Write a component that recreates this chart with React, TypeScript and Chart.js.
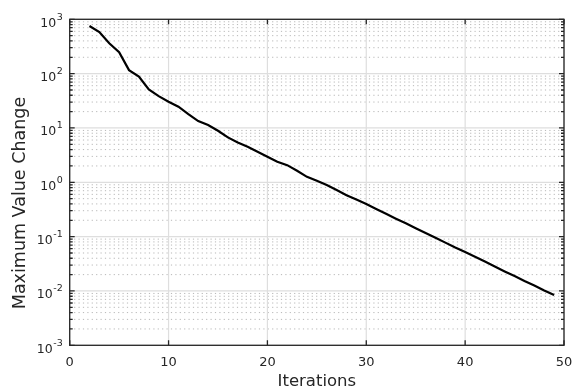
import React, { useEffect, useRef } from "react";
import { Chart, registerables } from "chart.js";

Chart.register(...registerables);

// Convergence history: largest change in the value function per iteration
const iterations = [
  2, 3, 4, 5, 6, 7, 8, 9, 10, 11, 12, 13, 14, 15, 16, 17, 18, 19, 20, 21, 22, 23, 24, 25,
  26, 27, 28, 29, 30, 31, 32, 33, 34, 35, 36, 37, 38, 39, 40, 41, 42, 43, 44, 45, 46, 47, 48, 49,
];
const maxValueChange = [
  753, 584, 361, 247, 116, 88, 51, 38.6, 30.4, 24.6, 18, 13.4, 11.3, 8.9, 6.7, 5.4, 4.5, 3.65,
  2.95, 2.39, 2.07, 1.63, 1.26, 1.07, 0.89, 0.72, 0.58, 0.48, 0.398, 0.324, 0.263, 0.214, 0.176,
  0.143, 0.117, 0.0955, 0.0776, 0.0631, 0.0519, 0.0427, 0.0347, 0.0282, 0.0229, 0.0188, 0.0153,
  0.0126, 0.0102, 0.0084,
];

const xTicks = [0, 10, 20, 30, 40, 50];
const yExponents = [-3, -2, -1, 0, 1, 2, 3];
const xTitle = "Iterations";
const yTitle = "Maximum Value Change";

const FONT = "'DejaVu Sans', sans-serif";
const INK = "#262626";

const axesPlugin = {
  id: "matlabAxes",
  beforeDatasetsDraw(chart: any) {
    const { ctx, chartArea: a, scales } = chart;
    const xs = scales.x;
    const ys = scales.y;
    ctx.save();
    // minor dotted grid lines
    ctx.strokeStyle = "#b8b8b8";
    ctx.lineWidth = 1;
    ctx.setLineDash([1.2, 3.2]);
    for (let e = -3; e < 3; e++) {
      for (let k = 2; k <= 9; k++) {
        const py = ys.getPixelForValue(k * Math.pow(10, e));
        ctx.beginPath();
        ctx.moveTo(a.left, py);
        ctx.lineTo(a.right, py);
        ctx.stroke();
      }
    }
    ctx.setLineDash([]);
    // major grid lines
    ctx.strokeStyle = "#dedede";
    ctx.lineWidth = 1.2;
    for (const e of yExponents) {
      const py = ys.getPixelForValue(Math.pow(10, e));
      ctx.beginPath();
      ctx.moveTo(a.left, py);
      ctx.lineTo(a.right, py);
      ctx.stroke();
    }
    for (const t of xTicks) {
      const px = xs.getPixelForValue(t);
      ctx.beginPath();
      ctx.moveTo(px, a.top);
      ctx.lineTo(px, a.bottom);
      ctx.stroke();
    }
    ctx.restore();
  },
  afterDatasetsDraw(chart: any) {
    const { ctx, chartArea: a, scales } = chart;
    const xs = scales.x;
    const ys = scales.y;
    ctx.save();
    ctx.strokeStyle = INK;
    ctx.lineWidth = 1.3;
    ctx.strokeRect(a.left, a.top, a.right - a.left, a.bottom - a.top);

    // tick marks, pointing inward on all four sides
    ctx.beginPath();
    for (const t of xTicks) {
      const px = xs.getPixelForValue(t);
      ctx.moveTo(px, a.bottom);
      ctx.lineTo(px, a.bottom - 5);
      ctx.moveTo(px, a.top);
      ctx.lineTo(px, a.top + 5);
    }
    for (const e of yExponents) {
      const py = ys.getPixelForValue(Math.pow(10, e));
      ctx.moveTo(a.left, py);
      ctx.lineTo(a.left + 5, py);
      ctx.moveTo(a.right, py);
      ctx.lineTo(a.right - 5, py);
    }
    for (let e = -3; e < 3; e++) {
      for (let k = 2; k <= 9; k++) {
        const py = ys.getPixelForValue(k * Math.pow(10, e));
        ctx.moveTo(a.left, py);
        ctx.lineTo(a.left + 3, py);
        ctx.moveTo(a.right, py);
        ctx.lineTo(a.right - 3, py);
      }
    }
    ctx.stroke();

    // tick labels
    ctx.fillStyle = INK;
    ctx.font = `13px ${FONT}`;
    ctx.textAlign = "center";
    ctx.textBaseline = "alphabetic";
    for (const t of xTicks) {
      ctx.fillText(String(t), xs.getPixelForValue(t), a.bottom + 21);
    }
    for (const e of yExponents) {
      const py = ys.getPixelForValue(Math.pow(10, e));
      const exp = String(e);
      ctx.font = `9.5px ${FONT}`;
      const ew = ctx.measureText(exp).width;
      ctx.textAlign = "right";
      const right = a.left - 7;
      ctx.fillText(exp, right, py + 0.5);
      ctx.font = `12.5px ${FONT}`;
      ctx.fillText("10", right - ew - 0.5, py + 7.3);
    }

    // axis titles
    ctx.textAlign = "center";
    ctx.font = `16.5px ${FONT}`;
    ctx.fillText(xTitle, (a.left + a.right) / 2, 385.5);
    ctx.save();
    ctx.translate(25, 203);
    ctx.rotate(-Math.PI / 2);
    ctx.font = `17.5px ${FONT}`;
    ctx.fillText(yTitle, 0, 0);
    ctx.restore();
    ctx.restore();
  },
};

export default function App() {
  const ref = useRef<HTMLCanvasElement | null>(null);

  useEffect(() => {
    if (!ref.current) return;
    const points = iterations.map((x, i) => ({ x, y: maxValueChange[i] }));
    const chart = new Chart(ref.current, {
      type: "line",
      data: {
        datasets: [
          {
            data: points,
            borderColor: "#000000",
            borderWidth: 2.2,
            pointRadius: 0,
            tension: 0,
            fill: false,
          },
        ],
      },
      options: {
        animation: false,
        responsive: false,
        devicePixelRatio: 1,
        layout: { padding: { left: 69.7, top: 19.3, right: 10, bottom: 42.7 } },
        plugins: { legend: { display: false }, tooltip: { enabled: false } },
        scales: {
          x: { type: "linear", min: 0, max: 50, display: false },
          y: { type: "logarithmic", min: 1e-3, max: 1e3, display: false },
        },
      },
      plugins: [axesPlugin],
    });
    return () => chart.destroy();
  }, []);

  return (
    <div style={{ position: "absolute", left: 0, top: 0, width: 574, height: 388, background: "#fff" }}>
      <canvas ref={ref} width={574} height={388} style={{ display: "block" }} />
    </div>
  );
}
